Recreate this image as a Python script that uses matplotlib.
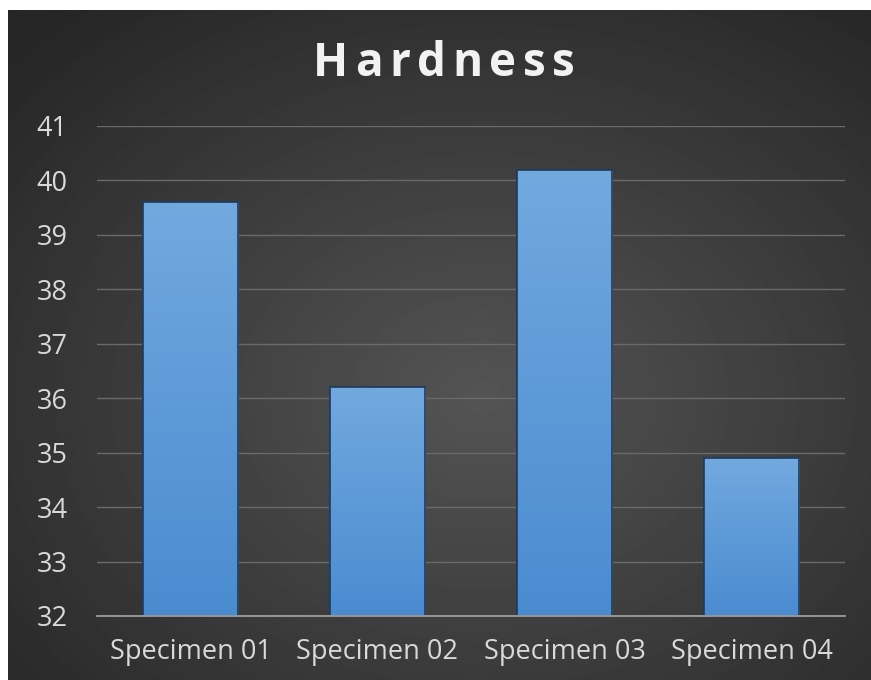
import numpy as np
import matplotlib.pyplot as plt
from matplotlib.patches import Rectangle
from matplotlib.colors import LinearSegmentedColormap

# Hardness readings per specimen
specimens = ["Specimen 01", "Specimen 02", "Specimen 03", "Specimen 04"]
hardness = [39.6, 36.2, 40.2, 34.9]
y_ticks = [32, 33, 34, 35, 36, 37, 38, 39, 40, 41]
title = "Hardness"

W, H = 871, 680
fig = plt.figure(figsize=(W / 100, H / 100), dpi=100)
fig.patch.set_facecolor("white")

# dark chart area with a soft radial glow in the middle
bg = fig.add_axes([8 / W, 0, 1 - 8 / W, 1 - 10 / H])
bg.set_axis_off()
yy, xx = np.mgrid[0:1:400j, 0:1:500j]
r = np.sqrt(((xx - 0.55) / 0.75) ** 2 + ((yy - 0.42) / 0.75) ** 2)
shade = np.clip(0.33 - 0.18 * r, 0.15, 0.33)
bg.imshow(shade, cmap="gray", vmin=0, vmax=1, aspect="auto",
          extent=[0, 1, 0, 1], origin="lower")
bg.set_xlim(0, 1)
bg.set_ylim(0, 1)

ax = fig.add_axes([97 / W, 1 - 616 / H, (845 - 97) / W, (616 - 126) / H])
ax.patch.set_alpha(0)

x = np.arange(len(specimens))
bars = ax.bar(x, hardness, width=0.51, color="#5b9bd5",
              edgecolor="#1f3b5c", linewidth=1.2, zorder=3)

# vertical gradient inside each bar
grad = np.linspace(0, 1, 256).reshape(-1, 1)
bar_cmap = LinearSegmentedColormap.from_list("bar", ["#4a8bd0", "#72a9df"])
for b in bars:
    x0, w, h = b.get_x(), b.get_width(), b.get_height()
    im = ax.imshow(grad, cmap=bar_cmap, aspect="auto", origin="lower",
                   extent=[x0, x0 + w, 32, h], zorder=3.5)
    im.set_clip_path(b)
    ax.add_patch(Rectangle((x0, 32), w, h - 32, fill=False,
                           edgecolor="#1f3b5c", linewidth=1.2, zorder=4))

ax.set_xlim(-0.5, 3.5)
ax.set_ylim(32, 41)
ax.set_yticks(y_ticks)
ax.set_xticks(x)
ax.set_xticklabels(specimens)
ax.yaxis.grid(True, color="#6a6a6a", linewidth=1.0, zorder=0)
ax.set_axisbelow(True)

for s in ["top", "right", "left"]:
    ax.spines[s].set_visible(False)
ax.spines["bottom"].set_color("#a6a6a6")
ax.spines["bottom"].set_linewidth(1.2)
ax.spines["bottom"].set_zorder(5)

ax.tick_params(axis="both", length=0, colors="#d9d9d9")
ax.tick_params(axis="y", pad=21, labelsize=19.5)
ax.tick_params(axis="x", pad=16, labelsize=19.5)
for lab in ax.get_xticklabels() + ax.get_yticklabels():
    lab.set_fontfamily("Open Sans")

# title with wide letter spacing: place each letter by hand
renderer = fig.canvas.get_renderer()
tkw = dict(color="#f2f2f2", fontsize=33, fontweight="bold",
           family="Open Sans", va="center", ha="left")
widths = []
for ch in title:
    t = fig.text(0, 0, ch, **tkw)
    widths.append(t.get_window_extent(renderer).width)
    t.remove()
total = 262
gap = (total - sum(widths)) / (len(title) - 1)
cx = 444 - total / 2
for ch, wd in zip(title, widths):
    fig.text(cx / W, 1 - 63 / H, ch, **tkw)
    cx += wd + gap

fig.savefig("out.png", dpi=100, facecolor=fig.get_facecolor())
